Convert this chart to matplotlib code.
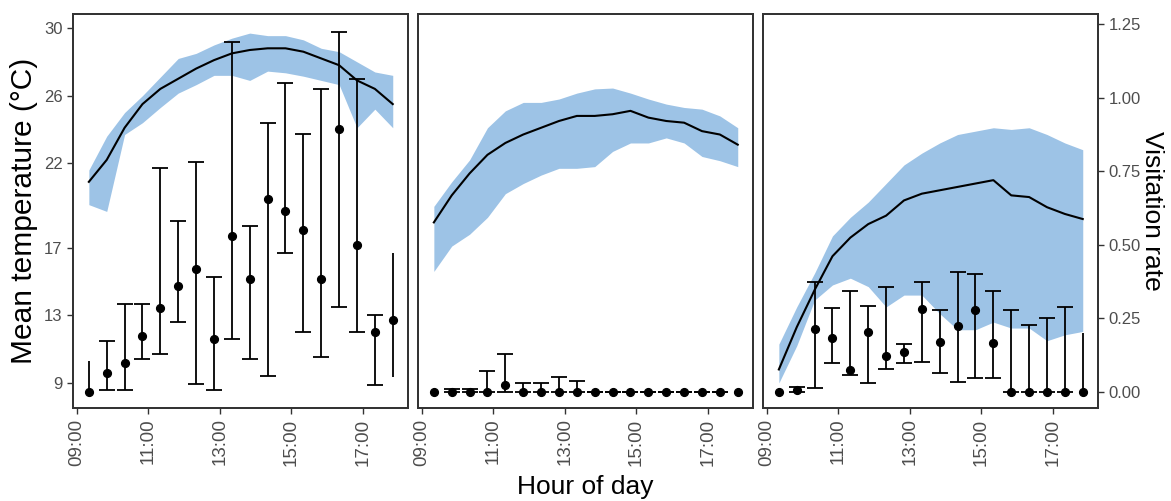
import numpy as np
import matplotlib
matplotlib.use("Agg")
import matplotlib.pyplot as plt

plt.rcParams['font.family'] = ['Liberation Sans', 'DejaVu Sans']

# half-hour time steps (hours of day)
hours = [9 + 20/60 + 0.5*i for i in range(18)]

# temperature (line + ribbon), one list per panel
temp_mean = [
    [20.9, 22.2, 24.1, 25.5, 26.4, 27.0, 27.6, 28.1, 28.5, 28.7, 28.8, 28.8, 28.6, 28.2, 27.8, 26.9, 26.4, 25.5],
    [18.5, 20.1, 21.4, 22.5, 23.2, 23.7, 24.1, 24.5, 24.8, 24.8, 24.9, 25.1, 24.7, 24.5, 24.4, 23.9, 23.7, 23.1],
    [9.8, 12.3, 14.5, 16.5, 17.6, 18.4, 18.9, 19.8, 20.2, 20.4, 20.6, 20.8, 21.0, 20.1, 20.0, 19.4, 19.0, 18.7],
]
temp_hi = [
    [21.6, 23.6, 25.0, 26.0, 27.1, 28.2, 28.5, 29.0, 29.4, 29.7, 29.55, 29.55, 29.3, 28.8, 28.6, 28.0, 27.4, 27.2],
    [19.45, 20.9, 22.2, 24.1, 25.1, 25.6, 25.6, 25.8, 26.15, 26.4, 26.45, 26.15, 25.8, 25.5, 25.3, 25.2, 24.8, 24.1],
    [11.3, 13.5, 15.5, 17.7, 18.8, 19.7, 20.8, 21.9, 22.6, 23.2, 23.7, 23.9, 24.1, 24.0, 24.1, 23.7, 23.2, 22.8],
]
temp_lo = [
    [19.55, 19.15, 23.7, 24.4, 25.3, 26.15, 26.65, 27.2, 27.2, 26.9, 27.45, 27.35, 27.15, 26.9, 26.65, 24.1, 25.2, 24.1],
    [15.6, 17.1, 17.8, 18.8, 20.2, 20.8, 21.3, 21.7, 21.7, 21.8, 22.7, 23.2, 23.2, 23.5, 23.2, 22.4, 22.15, 21.8],
    [9.0, 11.2, 13.9, 14.8, 15.2, 14.7, 13.5, 14.2, 14.2, 13.1, 12.15, 12.15, 12.6, 12.25, 12.25, 11.5, 11.85, 12.05],
]

# visitation rate points with error bar bounds
rate = [
    [0.0, 0.066, 0.10, 0.19, 0.284, 0.36, 0.417, 0.18, 0.528, 0.384, 0.655, 0.613, 0.55, 0.384, 0.892, 0.50, 0.203, 0.245],
    [0.0, 0.0, 0.0, 0.0, 0.024, 0.0, 0.0, 0.0, 0.0, 0.0, 0.0, 0.0, 0.0, 0.0, 0.0, 0.0, 0.0, 0.0],
    [0.0, 0.005, 0.213, 0.182, 0.075, 0.203, 0.122, 0.137, 0.281, 0.171, 0.224, 0.279, 0.165, 0.0, 0.0, 0.0, 0.0, 0.0],
]
rate_hi = [
    [0.105, 0.174, 0.30, 0.30, 0.76, 0.58, 0.78, 0.392, 1.187, 0.564, 0.913, 1.049, 0.877, 1.03, 1.222, 1.062, 0.262, 0.471],
    [0.0, 0.01, 0.01, 0.07, 0.13, 0.03, 0.03, 0.05, 0.037, 0.0, 0.0, 0.0, 0.0, 0.0, 0.0, 0.0, 0.0, 0.0],
    [0.0, 0.016, 0.375, 0.284, 0.344, 0.292, 0.356, 0.163, 0.372, 0.279, 0.409, 0.401, 0.343, 0.28, 0.227, 0.25, 0.29, 0.2],
]
rate_lo = [
    [0.0, 0.005, 0.005, 0.113, 0.129, 0.239, 0.026, 0.005, 0.179, 0.111, 0.054, 0.473, 0.203, 0.12, 0.288, 0.205, 0.024, 0.05],
    [0.0, 0.0, 0.0, 0.0, 0.0, 0.0, 0.0, 0.0, 0.0, 0.0, 0.0, 0.0, 0.0, 0.0, 0.0, 0.0, 0.0, 0.0],
    [0.0, 0.0, 0.012, 0.097, 0.058, 0.029, 0.077, 0.097, 0.103, 0.063, 0.035, 0.048, 0.048, 0.0, 0.0, 0.0, 0.0, 0.0],
]

temp_ticks = [9, 13, 17, 22, 26, 30]
rate_ticks = [0.0, 0.25, 0.5, 0.75, 1.0, 1.25]
rate_labels = ['0.00', '0.25', '0.50', '0.75', '1.00', '1.25']
hour_ticks = [9, 11, 13, 15, 17]
hour_labels = ['09:00', '11:00', '13:00', '15:00', '17:00']

ribbon_col = '#9dc3e6'
grey = '#4d4d4d'
edge = '#333333'

fig = plt.figure(figsize=(11.71, 5.01), dpi=100)
lefts = [73/1171, 418/1171, 763/1171]
w = 335/1171
bottom = 1 - 408/501
h = 394/501

for i in range(3):
    ax = fig.add_axes([lefts[i], bottom, w, h])
    ax.fill_between(hours, temp_lo[i], temp_hi[i], color=ribbon_col, lw=0)
    ax.plot(hours, temp_mean[i], color='black', lw=1.5)
    ax.set_xlim(8.89, 18.26)
    ax.set_ylim(7.52, 30.83)
    ax.set_xticks(hour_ticks)
    ax.set_xticklabels(hour_labels, rotation=90)
    ax.set_yticks(temp_ticks)

    axr = ax.twinx()
    axr.set_ylim(-0.0545, 1.2836)
    r = np.array(rate[i])
    err = [r - np.array(rate_lo[i]), np.array(rate_hi[i]) - r]
    mid = slice(1, 17)
    axr.errorbar(hours[mid], r[mid], yerr=[err[0][mid], err[1][mid]], fmt='o', color='black',
                 ms=5.6, elinewidth=1.3, capsize=5.8, capthick=1.3)
    ends = [0, 17]
    axr.errorbar([hours[k] for k in ends], r[ends], yerr=[err[0][ends], err[1][ends]], fmt='o',
                 color='black', ms=5.6, elinewidth=1.3, capsize=0)
    axr.set_yticks(rate_ticks)
    axr.set_yticklabels(rate_labels)

    # tick styling after twinx (twinx resets the left ticks)
    ax.tick_params(colors=edge, labelcolor=grey, length=4, width=1)
    ax.tick_params(axis='x', labelsize=13.5)
    ax.tick_params(axis='y', labelsize=12)
    axr.tick_params(colors=edge, labelcolor=grey, labelsize=12, length=4, width=1)
    if i > 0:
        ax.tick_params(axis='y', left=False, labelleft=False)
    if i < 2:
        axr.tick_params(axis='y', right=False, labelright=False)
    else:
        axr.set_ylabel('Visitation rate', fontsize=19, rotation=270, labelpad=17)
    if i == 0:
        ax.set_ylabel('Mean temperature (°C)', fontsize=21.5, labelpad=4)
    for a in (ax, axr):
        for s in a.spines.values():
            s.set_color(edge)
            s.set_linewidth(1.3)

fig.text(0.5, 0.027, 'Hour of day', ha='center', va='center', fontsize=19)

fig.savefig('out.png', dpi=100)
